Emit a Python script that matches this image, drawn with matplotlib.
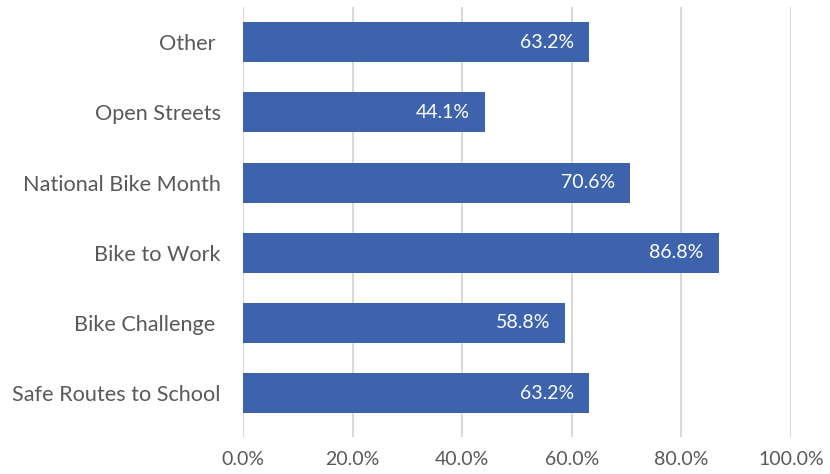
import numpy as np
import matplotlib.pyplot as plt
from matplotlib.ticker import FuncFormatter

plt.rcParams['font.family'] = ['Lato', 'DejaVu Sans']

categories = ['Safe Routes to School', 'Bike Challenge ', 'Bike to Work',
              'National Bike Month', 'Open Streets', 'Other ']
values = [63.2, 58.8, 86.8, 70.6, 44.1, 63.2]
ticks = [0, 20, 40, 60, 80, 100]

bar_color = '#3D63AD'
grid_color = '#D9D9D9'
text_color = '#595959'

fig = plt.figure(figsize=(8.3, 4.74), dpi=100)
ax = fig.add_axes([0.2928, 0.0781, 0.6602, 0.9071])

y = np.arange(len(categories))
ax.barh(y, values, height=0.57, color=bar_color, zorder=3)

# value labels inside the bar ends
for yi, v in zip(y, values):
    ax.annotate('%.1f%%' % v, xy=(v, yi), xytext=(-15, 0), textcoords='offset pixels',
                ha='right', va='center', color='white', fontsize=14, zorder=4)

ax.set_xlim(0, 100)
ax.set_ylim(-0.625, 5.5)
ax.set_xticks(ticks)
ax.xaxis.set_major_formatter(FuncFormatter(lambda v, p: '%.1f%%' % v))
ax.set_yticks(y)
ax.set_yticklabels(categories)
ax.grid(axis='x', color=grid_color, linewidth=1.5, zorder=0)
for s in ax.spines.values():
    s.set_visible(False)
ax.tick_params(axis='both', length=0, colors=text_color)
ax.tick_params(axis='x', pad=10, labelsize=14)
ax.tick_params(axis='y', pad=16, labelsize=15.6)

fig.savefig('out.png', dpi=100)
